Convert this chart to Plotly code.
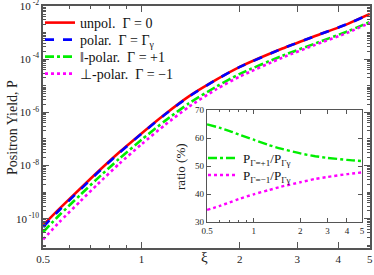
import math
import plotly.graph_objects as go

# ---------------- data ----------------
xi_main = [0.5, 0.56, 0.65, 0.73, 0.855, 1.0, 1.18, 1.4, 1.7, 2.0, 2.7, 3.4, 4.3, 5.0]
log10_unpol = [-10.24, -9.63, -8.86, -8.27, -7.50, -6.79, -6.07, -5.39, -4.76, -4.29, -3.60, -3.13, -2.66, -2.30]
log10_polar = [-10.31, -9.68, -8.90, -8.30, -7.52, -6.805, -6.08, -5.40, -4.76, -4.29, -3.60, -3.13, -2.66, -2.31]
log10_par = [-10.50, -9.87, -9.10, -8.51, -7.74, -7.03, -6.32, -5.65, -5.02, -4.55, -3.87, -3.41, -2.94, -2.60]
log10_perp = [-10.78, -10.13, -9.34, -8.73, -7.93, -7.20, -6.47, -5.78, -5.12, -4.65, -3.94, -3.46, -2.99, -2.63]

xi_ratio = [0.5, 0.6, 0.7, 0.8, 1.0, 1.25, 1.5, 2.0, 2.5, 3.0, 4.0, 5.0]
ratio_par = [64.9, 63.7, 62.5, 61.3, 59.4, 57.5, 56.2, 54.5, 53.5, 52.9, 52.2, 51.8]
ratio_perp = [34.3, 35.7, 37.0, 38.2, 39.9, 41.4, 42.6, 44.2, 45.4, 46.1, 47.1, 47.7]

x_ticks = [0.5, 1, 2, 3, 4, 5]
x_ticktext = ["0.5", "1", "2", "3", "4", "5"]
y_exps = [-2, -4, -6, -8, -10]
ratio_ticks = [30, 40, 50, 60, 70]

names_main = ["unpol.  Γ = 0", "polar.  Γ = Γ<sub>γ</sub>", "‖-polar.  Γ = +1", "⊥-polar.  Γ = −1"]
names_ratio = ["P<sub>Γ=+1</sub>/P<sub>Γγ</sub>", "P<sub>Γ=−1</sub>/P<sub>Γγ</sub>"]

# ---------------- styling ----------------
FONT = "Liberation Serif"
AX = "#555555"
RED, BLUE, GREEN, MAG = "#ff0000", "#0000ff", "#00ee00", "#ff00ff"

# plot area in pixels (for legend placement)
PL, PW, PT, PH = 43, 327, 6, 242


def px_x(xp):
    return (xp - PL) / PW


def px_y(yp):
    return (PT + PH - yp) / PH


fig = go.Figure()

main_legend_rows = [23, 40, 57, 74]
series = [
    (log10_unpol, names_main[0], RED, "solid"),
    (log10_polar, names_main[1], BLUE, "dash"),
    (log10_par, names_main[2], GREEN, "dashdot"),
    (log10_perp, names_main[3], MAG, "dot"),
]
legend_layouts = {}
for i, (vals, name, col, dash) in enumerate(series):
    lg = "legend" if i == 0 else "legend%d" % (i + 1)
    fig.add_trace(go.Scatter(
        x=xi_main, y=[10 ** v for v in vals], mode="lines", name=name, showlegend=True,
        line=dict(color=col, width=2.6, dash=dash, shape="spline", smoothing=0.6),
        xaxis="x", yaxis="y", legend=lg))
    legend_layouts[lg] = dict(
        x=px_x(40), y=px_y(main_legend_rows[i]), xanchor="left", yanchor="middle",
        bgcolor="rgba(0,0,0,0)", borderwidth=0,
        font=dict(family=FONT, size=14, color="#111111"), itemwidth=30)

ratio_legend_rows = [158, 175]
for j, (vals, name, col, dash) in enumerate([(ratio_par, names_ratio[0], GREEN, "dashdot"),
                                             (ratio_perp, names_ratio[1], MAG, "dot")]):
    lg = "legend%d" % (5 + j)
    fig.add_trace(go.Scatter(
        x=xi_ratio, y=vals, mode="lines", name=name, showlegend=True,
        line=dict(color=col, width=2.4, dash=dash, shape="spline", smoothing=0.6),
        xaxis="x2", yaxis="y2", legend=lg))
    legend_layouts[lg] = dict(
        x=px_x(203), y=px_y(ratio_legend_rows[j]), xanchor="left", yanchor="middle",
        bgcolor="rgba(0,0,0,0)", borderwidth=0,
        font=dict(family=FONT, size=13, color="#111111"), itemwidth=30)

minor_x = [0.6, 0.7, 0.8, 0.9]
minor_y = [k * 10.0 ** e for e in range(-12, -1) for k in range(1, 10)]
x_range = [math.log10(0.5) - 0.0005, math.log10(5) + 0.0005]

common = dict(showgrid=False, zeroline=False, automargin=False,
              ticklabeloverflow="allow", tickcolor=AX, ticks="inside")

fig.update_layout(
    width=374, height=275, showlegend=True,
    margin=dict(l=PL, r=374 - PL - PW, t=PT, b=275 - PT - PH, autoexpand=False),
    paper_bgcolor="white", plot_bgcolor="white",
    font=dict(family=FONT, size=11, color="#222222"),
    xaxis=dict(
        type="log", range=x_range,
        tickvals=x_ticks, ticktext=x_ticktext,
        ticklen=6, tickwidth=1,
        showline=True, linecolor=AX, linewidth=1.5, mirror="allticks",
        minor=dict(tickvals=minor_x, ticks="inside", ticklen=3, tickcolor=AX, showgrid=False),
        tickfont=dict(size=11), **common,
    ),
    yaxis=dict(
        type="log", range=[-11.1, -1.999],
        tickvals=[10.0 ** e for e in y_exps],
        ticktext=["10<sup> %d</sup>" % e for e in y_exps],
        ticklen=6, tickwidth=1,
        showline=True, linecolor=AX, linewidth=1.5, mirror="allticks",
        minor=dict(tickvals=minor_y, ticks="inside", ticklen=3, tickcolor=AX, showgrid=False),
        tickfont=dict(size=11), **common,
    ),
    xaxis2=dict(
        domain=[0.5015, 0.9755], anchor="y2",
        type="log", range=x_range,
        tickvals=x_ticks, ticktext=x_ticktext,
        ticklen=4,
        showline=True, linecolor=AX, linewidth=1.2, mirror="allticks",
        minor=dict(tickvals=minor_x, ticks="inside", ticklen=2, tickcolor=AX, showgrid=False),
        tickfont=dict(size=9), **common,
    ),
    yaxis2=dict(
        domain=[0.1074, 0.570], anchor="x2",
        range=[29.99, 70.01], tickvals=ratio_ticks,
        ticklen=4,
        showline=True, linecolor=AX, linewidth=1.2, mirror="allticks",
        tickfont=dict(size=9), **common,
    ),
    annotations=[
        dict(text="Positron Yield, P", xref="paper", yref="paper", x=-0.124, y=0.5,
             textangle=-90, showarrow=False, font=dict(family=FONT, size=14, color="#222222")),
        dict(text="ξ", xref="paper", yref="paper", x=0.495, y=-0.078,
             showarrow=False, font=dict(family=FONT, size=15, color="#222222")),
        dict(text="ratio (%)", xref="paper", yref="paper", x=0.422, y=0.339,
             textangle=-90, showarrow=False, font=dict(family=FONT, size=13, color="#222222")),
    ],
    **legend_layouts,
)

fig.write_html("out.html", config={"displayModeBar": False},
               post_script="document.body.style.margin='0';")
